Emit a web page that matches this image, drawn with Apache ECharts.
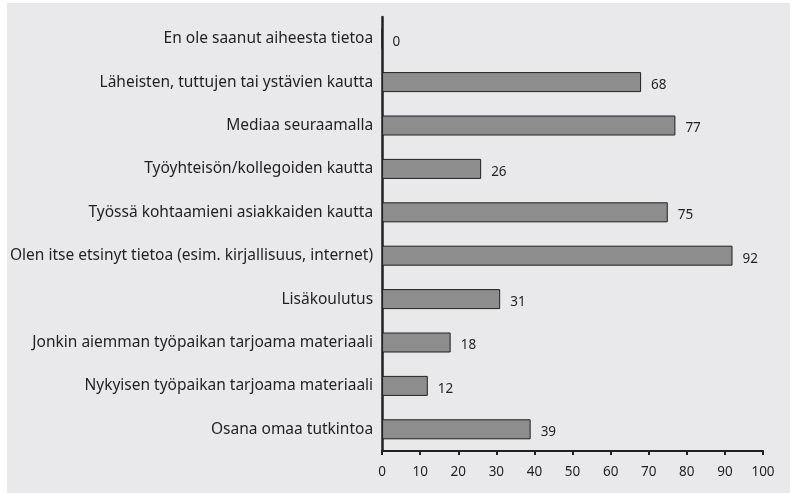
<!DOCTYPE html>
<html>
<head>
<meta charset="utf-8">
<script src="https://cdn.jsdelivr.net/npm/echarts@6/dist/echarts.min.js"></script>
<style>
html,body{margin:0;padding:0;background:#ffffff;}
#c{position:absolute;left:7px;top:3px;width:783px;height:490px;}
</style>
</head>
<body>
<div id="c"></div>
<script>
const categories = [
  "En ole saanut aiheesta tietoa",
  "Läheisten, tuttujen tai ystävien kautta",
  "Mediaa seuraamalla",
  "Työyhteisön/kollegoiden kautta",
  "Työssä kohtaamieni asiakkaiden kautta",
  "Olen itse etsinyt tietoa (esim. kirjallisuus, internet)",
  "Lisäkoulutus",
  "Jonkin aiemman työpaikan tarjoama materiaali",
  "Nykyisen työpaikan tarjoama materiaali",
  "Osana omaa tutkintoa"
];
const values = [0, 68, 77, 26, 75, 92, 31, 18, 12, 39];
const xMin = 0, xMax = 100, xStep = 10;

const FONT = 'Noto Sans';
const INK = '#231f20';
const chart = echarts.init(document.getElementById('c'), null, {renderer: 'canvas'});
chart.setOption({
  backgroundColor: '#e9e9eb',
  animation: false,
  textStyle: {fontFamily: FONT},
  grid: {left: 374, right: 27, top: 14, bottom: 42, containLabel: false},
  xAxis: {
    type: 'value', min: xMin, max: xMax, interval: xStep,
    axisLine: {show: true, lineStyle: {color: INK, width: 2}},
    axisTick: {show: true, length: 4, lineStyle: {color: INK, width: 2}},
    axisLabel: {color: INK, fontSize: 13.5, fontFamily: FONT, margin: 14},
    splitLine: {show: false}
  },
  yAxis: {
    type: 'category', data: categories, inverse: true,
    axisLine: {show: true, lineStyle: {color: INK, width: 2.5}},
    axisTick: {show: false},
    axisLabel: {color: INK, fontSize: 15.5, fontFamily: FONT, margin: 9}
  },
  series: [{
    type: 'bar', data: values, barWidth: 20,
    itemStyle: {color: '#8d8d8d', borderColor: INK, borderWidth: 1},
    label: {show: true, position: 'right', distance: 10, color: INK, fontSize: 13.5, fontFamily: FONT, offset: [0, 3]}
  }]
});
</script>
</body>
</html>
